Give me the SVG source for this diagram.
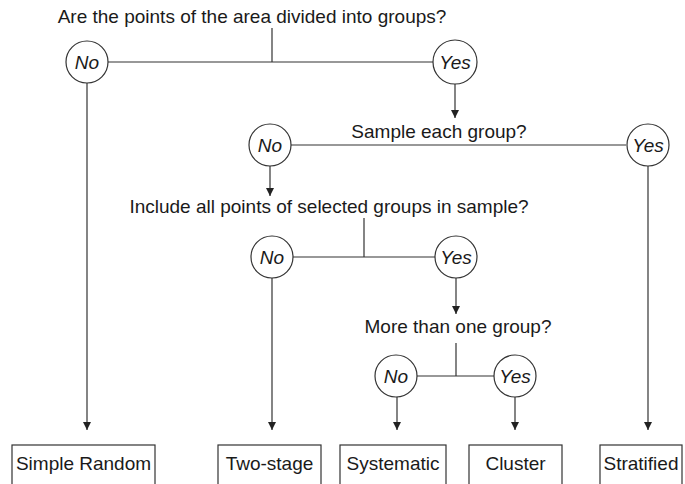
<svg xmlns="http://www.w3.org/2000/svg" width="685" height="484" viewBox="0 0 685 484">
<style>
text{font-family:"Liberation Sans",Arial,sans-serif;font-size:19px;fill:#1a1a1a}
.q{text-anchor:middle}
.c circle{fill:#fff;stroke:#333;stroke-width:1.2}
.c text{font-style:italic;text-anchor:middle}
.b rect{fill:#fff;stroke:#333;stroke-width:1.2}
.b text{text-anchor:middle}
#connectors line{stroke:#333;stroke-width:1.2}
</style>
<defs>
<marker id="ah" viewBox="0 0 8 10" refX="8" refY="5" markerWidth="8" markerHeight="10" markerUnits="userSpaceOnUse" orient="auto">
<path d="M0,1 L8,5 L0,9 Z" fill="#222"/>
</marker>
</defs>
<g id="q1"><text class="q" x="252" y="23">Are the points of the area divided into groups?</text></g>
<g id="q2"><text class="q" x="439" y="138">Sample each group?</text></g>
<g id="q3"><text class="q" x="329" y="213">Include all points of selected groups in sample?</text></g>
<g id="q4"><text class="q" x="458" y="333">More than one group?</text></g>
<g id="connectors">
<line x1="272" y1="28" x2="272" y2="62"/>
<line x1="108" y1="62" x2="433" y2="62"/>
<line x1="87" y1="83" x2="87" y2="430" marker-end="url(#ah)"/>
<line x1="455" y1="84" x2="455" y2="118" marker-end="url(#ah)"/>
<line x1="291" y1="145" x2="626" y2="145"/>
<line x1="270" y1="166" x2="270" y2="196" marker-end="url(#ah)"/>
<line x1="648" y1="166" x2="648" y2="430" marker-end="url(#ah)"/>
<line x1="364" y1="218" x2="364" y2="257"/>
<line x1="293" y1="257" x2="435" y2="257"/>
<line x1="272" y1="278" x2="272" y2="430" marker-end="url(#ah)"/>
<line x1="456" y1="278" x2="456" y2="314" marker-end="url(#ah)"/>
<line x1="456" y1="343" x2="456" y2="376"/>
<line x1="417" y1="376" x2="494" y2="376"/>
<line x1="397" y1="397" x2="397" y2="430" marker-end="url(#ah)"/>
<line x1="515" y1="397" x2="515" y2="430" marker-end="url(#ah)"/>
</g>
<g id="no1" class="c"><circle cx="87" cy="62" r="21"/><text x="87" y="69">No</text></g>
<g id="yes1" class="c"><circle cx="455" cy="62" r="22"/><text x="455" y="69">Yes</text></g>
<g id="no2" class="c"><circle cx="270" cy="145" r="21"/><text x="270" y="152">No</text></g>
<g id="yes2" class="c"><circle cx="648" cy="145" r="21"/><text x="648" y="152">Yes</text></g>
<g id="no3" class="c"><circle cx="272" cy="257" r="21"/><text x="272" y="264">No</text></g>
<g id="yes3" class="c"><circle cx="456" cy="257" r="21"/><text x="456" y="264">Yes</text></g>
<g id="no4" class="c"><circle cx="396" cy="376" r="21"/><text x="396" y="383">No</text></g>
<g id="yes4" class="c"><circle cx="515" cy="376" r="21"/><text x="515" y="383">Yes</text></g>
<g id="simple" class="b"><rect x="12" y="445" width="143" height="50"/><text x="83.5" y="470">Simple Random</text></g>
<g id="twostage" class="b"><rect x="218" y="445" width="103" height="50"/><text x="269.5" y="470">Two-stage</text></g>
<g id="systematic" class="b"><rect x="340" y="445" width="106" height="50"/><text x="393" y="470">Systematic</text></g>
<g id="cluster" class="b"><rect x="469" y="445" width="93" height="50"/><text x="515.5" y="470">Cluster</text></g>
<g id="stratified" class="b"><rect x="600" y="445" width="82" height="50"/><text x="641" y="470">Stratified</text></g>
</svg>
